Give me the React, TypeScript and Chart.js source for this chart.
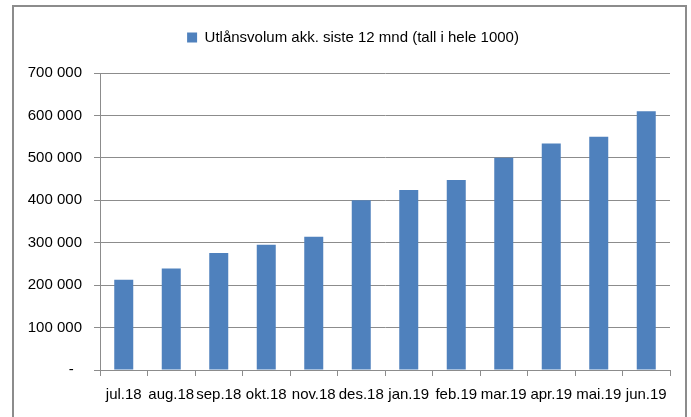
import React, { useEffect, useRef } from "react";
import { Chart, registerables } from "chart.js";

Chart.register(...registerables);

const categories = ["jul.18", "aug.18", "sep.18", "okt.18", "nov.18", "des.18", "jan.19", "feb.19", "mar.19", "apr.19", "mai.19", "jun.19"];
const seriesLabel = "Utlånsvolum akk. siste 12 mnd (tall i hele 1000)";
const values = [213000, 239000, 276000, 295000, 314000, 400000, 424000, 448000, 500000, 534000, 550000, 610000];
const yMin = 0;
const yMax = 700000;
const yStep = 100000;

const FONT = "'Liberation Sans', Arial, sans-serif";

function fmt(v: number): string {
  if (v === 0) return "-  ";
  return String(Math.round(v)).replace(/\B(?=(\d{3})+(?!\d))/g, " ");
}

export default function App() {
  const ref = useRef<HTMLCanvasElement>(null);
  useEffect(() => {
    if (!ref.current) return;
    const legendTweak = {
      id: "legendTweak",
      beforeInit(chart: any) {
        const orig = chart.legend.fit;
        chart.legend.fit = function () {
          orig.bind(chart.legend)();
          this.height += 18;
        };
      },
      afterLayout(chart: any) {
        chart.legend.left += 18;
        chart.legend.right += 18;
      },
    };
    const chart = new Chart(ref.current, {
      type: "bar",
      data: {
        labels: categories,
        datasets: [
          {
            label: seriesLabel,
            data: values,
            backgroundColor: "#4F81BD",
            borderWidth: 0,
            barPercentage: 0.4,
            categoryPercentage: 1,
          },
        ],
      },
      options: {
        animation: false,
        responsive: false,
        maintainAspectRatio: false,
        layout: { padding: { top: 20, right: 21, left: 0, bottom: 3 } },
        plugins: {
          legend: {
            display: true,
            position: "top",
            labels: {
              boxWidth: 10,
              boxHeight: 10,
              color: "#000",
              font: { family: FONT, size: 15 },
              padding: 10,
            },
          },
          tooltip: { enabled: false },
        },
        scales: {
          x: {
            grid: {
              display: true,
              drawOnChartArea: false,
              drawTicks: true,
              tickLength: 6,
              color: "#8c8c8c",
              offset: true,
            },
            border: { display: true, color: "#8c8c8c" },
            ticks: {
              color: "#000",
              font: { family: FONT, size: 15 },
              padding: 10,
              maxRotation: 0,
              autoSkip: false,
            },
          },
          y: {
            min: yMin,
            max: yMax,
            afterFit(scale: any) {
              scale.width = 100;
            },
            grid: {
              display: true,
              drawOnChartArea: true,
              drawTicks: true,
              tickLength: 6,
              color: "#8c8c8c",
            },
            border: { display: true, color: "#8c8c8c" },
            ticks: {
              stepSize: yStep,
              color: "#000",
              font: { family: FONT, size: 15 },
              padding: 12,
              callback: (v: any) => fmt(Number(v)),
            },
          },
        },
      },
      plugins: [legendTweak],
    });
    return () => chart.destroy();
  }, []);

  return (
    <div style={{ position: "absolute", left: 0, top: 0, width: 691, height: 417, background: "#fff", overflow: "hidden" }}>
      <canvas ref={ref} width={691} height={417} style={{ position: "absolute", left: 0, top: 0, width: 691, height: 417 }} />
      <div
        style={{
          position: "absolute",
          left: 12,
          top: 5,
          width: 675,
          height: 430,
          borderLeft: "2px solid #8c8c8c",
          borderTop: "2px solid #8c8c8c",
          borderRight: "2px solid #8c8c8c",
          boxSizing: "border-box",
          pointerEvents: "none",
        }}
      />
    </div>
  );
}
